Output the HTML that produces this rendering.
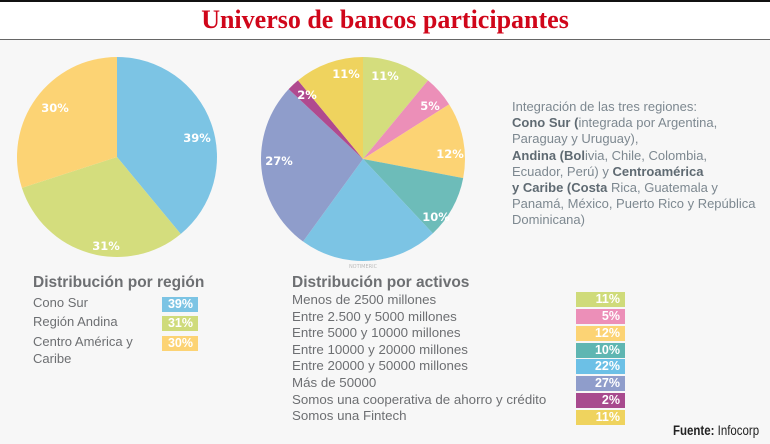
<!DOCTYPE html>
<html><head><meta charset="utf-8"><style>
body{margin:0;width:770px;height:444px;overflow:hidden;background:#f7f7f7;font-family:"Liberation Sans",sans-serif;position:relative}
.top{position:absolute;left:0;top:0;width:770px;height:40px;background:#fff;border-top:2px solid #111;box-sizing:border-box;border-bottom:1px solid #666}
.title{position:absolute;left:0;width:770px;top:5px;text-align:center;font-family:"Liberation Serif",serif;font-weight:bold;font-size:26px;color:#d0061a}
.t{position:absolute;color:#6d6f72;font-size:13px;white-space:nowrap}
.h{position:absolute;color:#6d6f72;font-size:15.5px;font-weight:bold;white-space:nowrap}
.b{position:absolute;color:#fff;font-size:12.5px;font-weight:bold;text-align:right;box-sizing:border-box;padding-right:5px;line-height:15px;height:15px}
.info{position:absolute;left:512px;top:99px;font-size:13px;line-height:16.2px;color:#7d8890}
.info b{color:#5f6a72}
svg text{font-family:"DejaVu Sans",sans-serif;font-weight:bold;font-size:11.5px;fill:#fff}
</style></head><body>
<div class="top"></div>
<div class="title">Universo de bancos participantes</div>
<svg id="s" width="770" height="444" style="position:absolute;left:0;top:0"></svg>
<div class="info">Integración de las tres regiones:<br><b>Cono Sur (</b>integrada por Argentina,<br>Paraguay y Uruguay),<br><b>Andina (Bol</b>ivia, Chile, Colombia,<br>Ecuador, Perú) y <b>Centroamérica<br>y Caribe (Costa</b> Rica, Guatemala y<br>Panamá, México, Puerto Rico y República<br>Dominicana)</div>
<div class="h" style="left:33px;top:274px">Distribución por región</div>
<div class="t" style="left:33px;top:295px">Cono Sur</div>
<div class="t" style="left:33px;top:314px">Región Andina</div>
<div class="t" style="left:33px;top:333px;line-height:17px">Centro América y<br>Caribe</div>
<div class="b" style="left:162px;top:297px;width:36px;background:#7cc4e4">39%</div>
<div class="b" style="left:162px;top:316px;width:36px;background:#cfdb7a">31%</div>
<div class="b" style="left:162px;top:336px;width:36px;background:#fcd374">30%</div>
<div class="h" style="left:292px;top:274px">Distribución por activos</div>
<div class="t" style="left:292px;top:292px;line-height:16.6px;font-size:13.3px">Menos de 2500 millones<br>Entre 2.500 y 5000 millones<br>Entre 5000 y 10000 millones<br>Entre 10000 y 20000 millones<br>Entre 20000 y 50000 millones<br>Más de 50000<br>Somos una cooperativa de ahorro y crédito<br>Somos una Fintech</div>
<div class="b" style="left:576px;top:292px;width:49px;background:#cfdb7a">11%</div>
<div class="b" style="left:576px;top:309px;width:49px;background:#ec8fb8">5%</div>
<div class="b" style="left:576px;top:326px;width:49px;background:#fcd374">12%</div>
<div class="b" style="left:576px;top:343px;width:49px;background:#5fb6b2">10%</div>
<div class="b" style="left:576px;top:359px;width:49px;background:#6cc0e6">22%</div>
<div class="b" style="left:576px;top:376px;width:49px;background:#8f9dcb">27%</div>
<div class="b" style="left:576px;top:393px;width:49px;background:#a84a8e">2%</div>
<div class="b" style="left:576px;top:410px;width:49px;background:#efd35e">11%</div>
<div style="position:absolute;left:673px;top:423px;font-size:13.5px;color:#222;white-space:nowrap;transform:scaleX(0.85);transform-origin:left"><b>Fuente:</b> Infocorp</div>
<script>
var s=document.getElementById('s'),out='';
function pie(cx,cy,r,data){var a=0;data.forEach(function(d){var a0=a,a1=a+d[0]*3.6;a=a1;
var p=function(t){t=t*Math.PI/180;return (cx+r*Math.sin(t)).toFixed(2)+','+(cy-r*Math.cos(t)).toFixed(2)};
out+='<path d="M'+cx+','+cy+' L'+p(a0)+' A'+r+','+r+' 0 '+(a1-a0>180?1:0)+' 1 '+p(a1)+' Z" fill="'+d[1]+'"/>';});}
pie(117,157,100,[[39,'#7cc4e4'],[31,'#d4dd7d'],[30,'#fcd374']]);
pie(363,159,102,[[11,'#d4dd7d'],[5,'#ec8fb8'],[12,'#fcd374'],[10,'#6dbcb9'],[22,'#7cc4e4'],[27,'#8f9dcb'],[2,'#b04a8f'],[11,'#efd35e']]);
[[55,112,'30%'],[197,142,'39%'],[106,250,'31%'],[346,78,'11%'],[385,80,'11%'],[430,110,'5%'],[450,158,'12%'],[436,221,'10%'],[279,165,'27%'],[307,99,'2%']].forEach(function(l){out+='<text x="'+l[0]+'" y="'+l[1]+'" text-anchor="middle">'+l[2]+'</text>'});
out+='<text x="363" y="268" text-anchor="middle" style="font-size:5px;fill:#bbb;font-weight:normal">NOTIMERIC</text>';
s.innerHTML=out;
</script>
</body></html>
